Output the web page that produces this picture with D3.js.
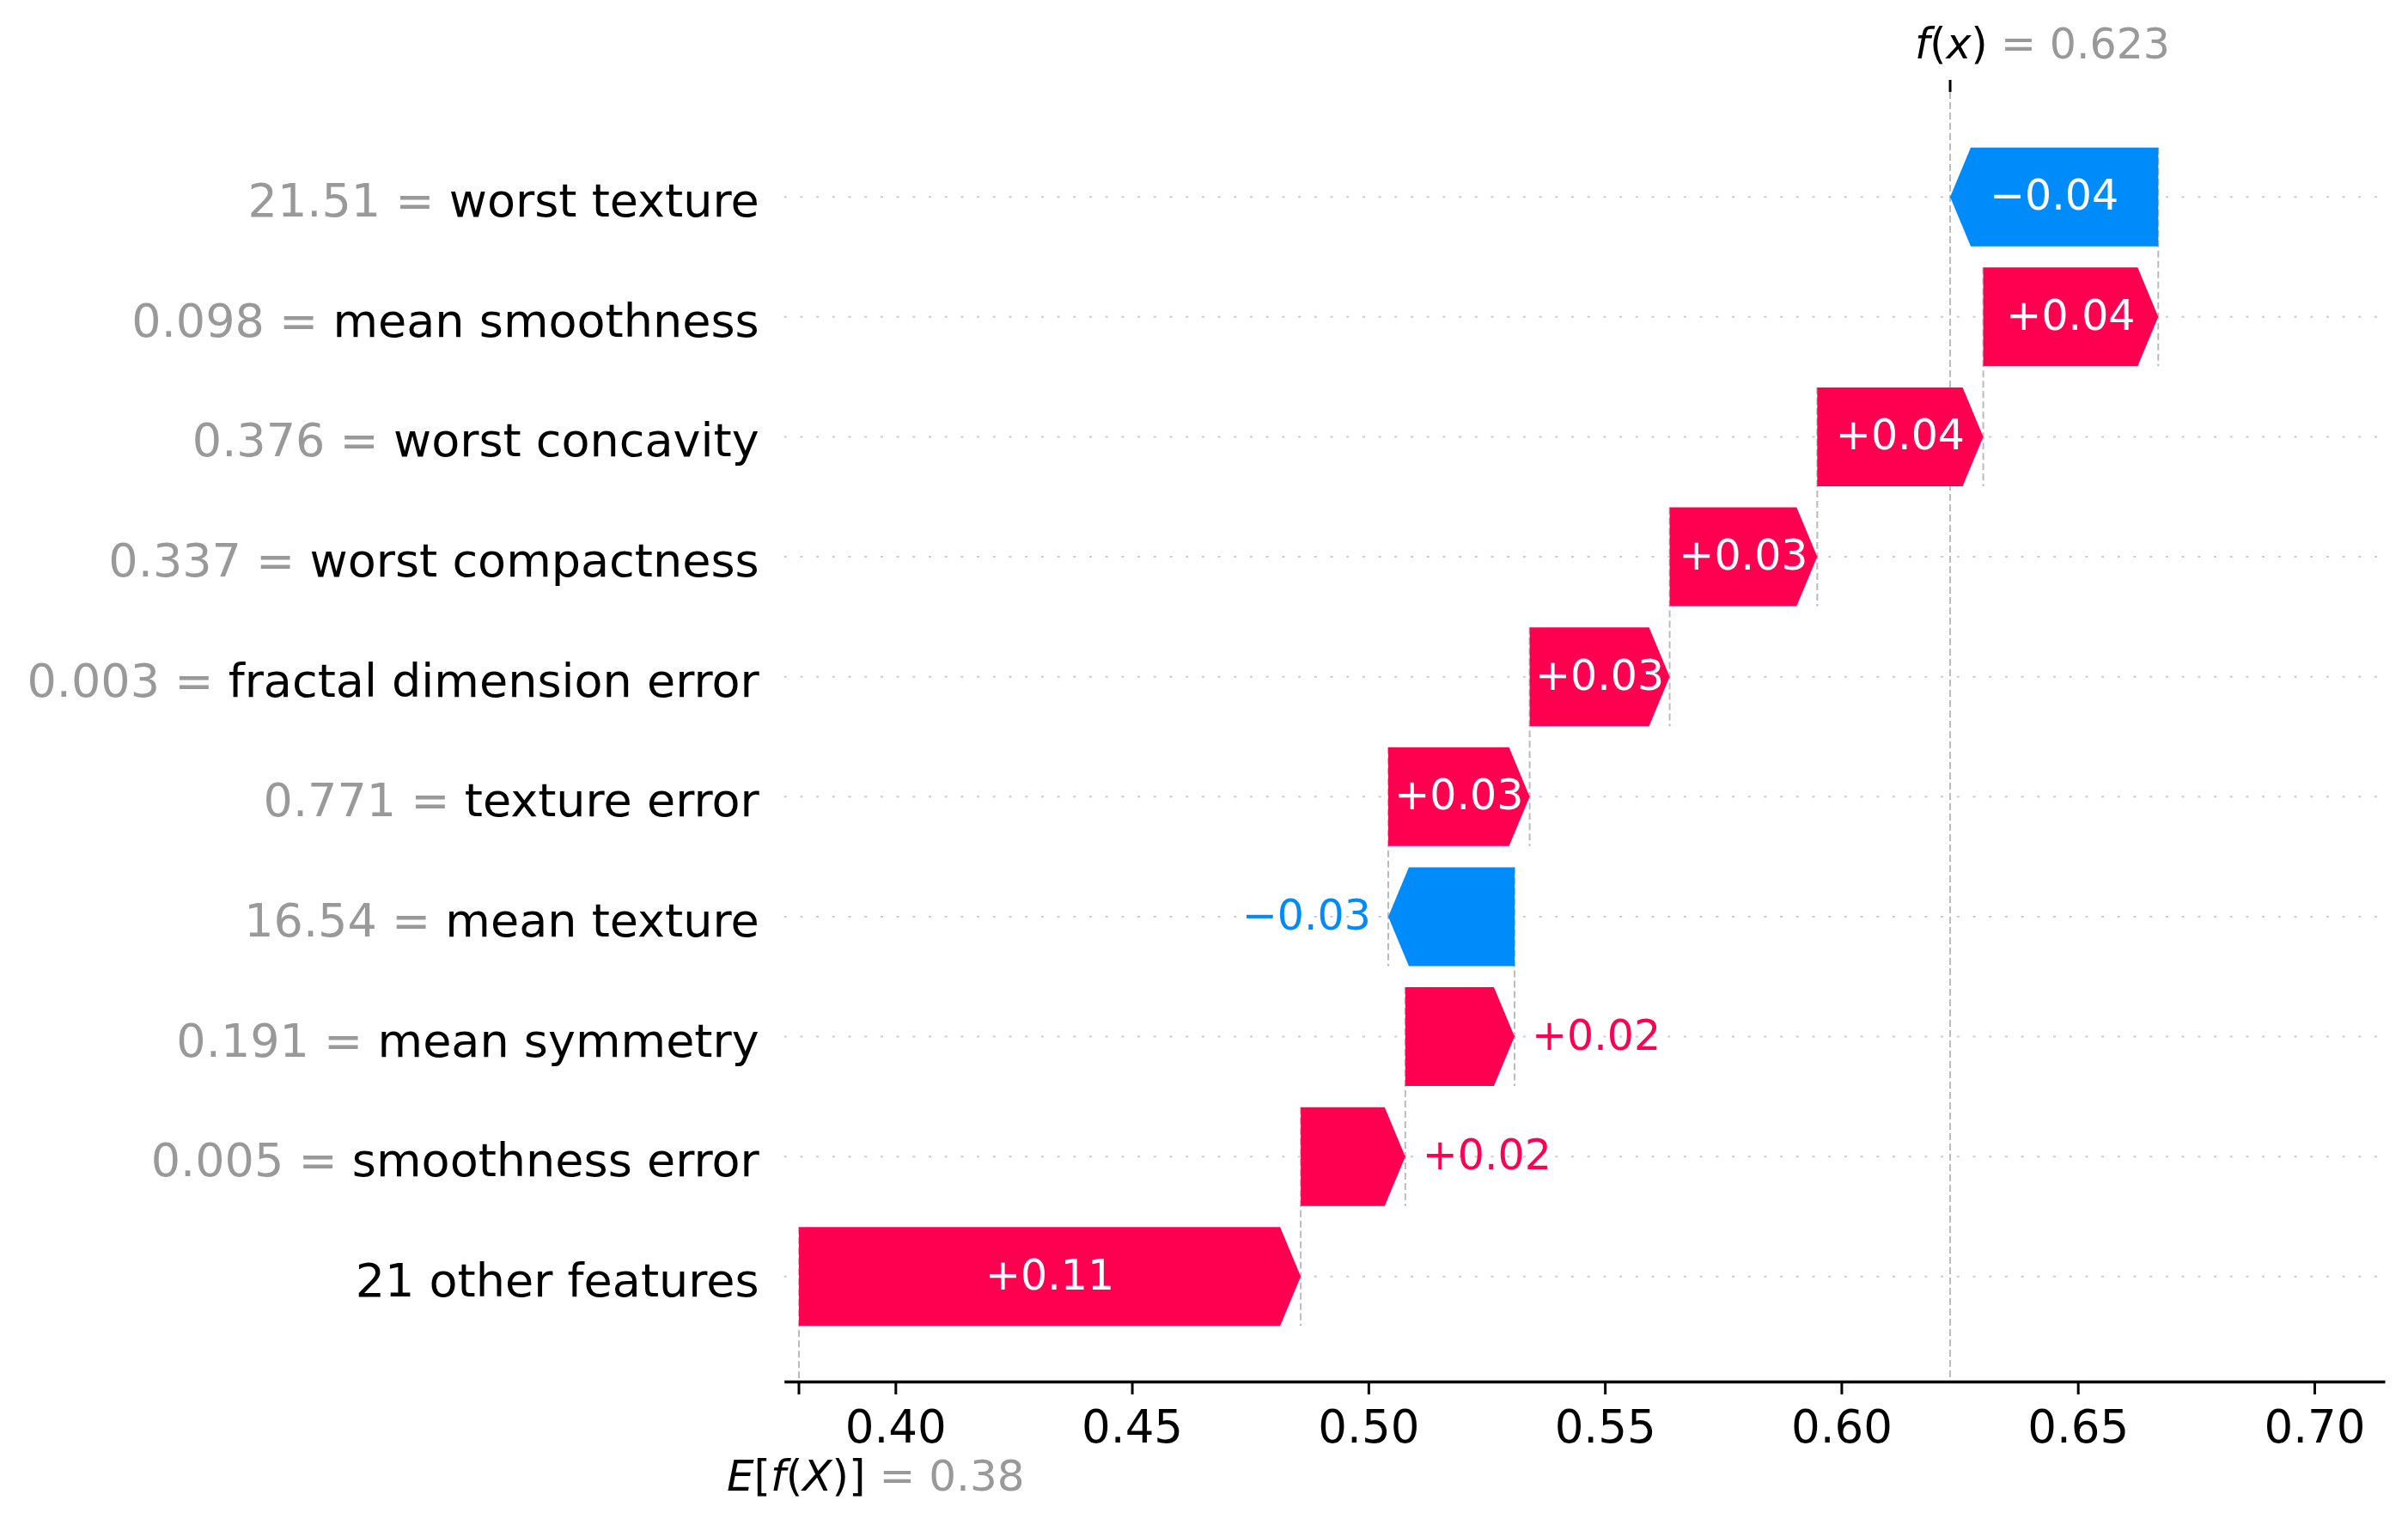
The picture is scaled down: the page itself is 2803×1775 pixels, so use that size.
<!DOCTYPE html>
<html><head><meta charset="utf-8">
<script src="https://cdn.jsdelivr.net/npm/d3@7"></script>
<style>
body{margin:0;background:#fff}
text{font-family:"DejaVu Sans",sans-serif;white-space:pre}
</style>
</head><body><svg id="chart" width="2803" height="1775"></svg>
<script>
// ---- data ----
const features = ["worst texture","mean smoothness","worst concavity","worst compactness","fractal dimension error","texture error","mean texture","mean symmetry","smoothness error","21 other features"];
const featureValues = ["21.51","0.098","0.376","0.337","0.003","0.771","16.54","0.191","0.005",""];
const shapValues = [-0.0440, 0.0370, 0.0351, 0.0312, 0.0296, 0.0299, -0.0267, 0.0231, 0.0221, 0.1061];
const baseValue = 0.3796;
const fxValue = 0.623;
const tickValues = [0.40,0.45,0.50,0.55,0.60,0.65,0.70];

const RED = "#ff0051", BLUE = "#008bfb";
const svg = d3.select("#chart");
svg.append("rect").attr("width",2803).attr("height",1775).attr("fill","#fff");

const x = d3.scaleLinear().domain([0.37646,0.7149]).range([912.7,2776]);
const y = d3.scaleLinear().domain([-0.875, 9.875]).range([107,1608]);
const barH = 115, HL = 24;
const n = features.length;
const starts = new Array(n), ends = new Array(n);
let acc = baseValue;
for (let i=n-1;i>=0;i--){ starts[i]=acc; acc+=shapValues[i]; ends[i]=acc; }

const [x0r,x1r] = x.range(), [yTop,yBot] = y.range();

// horizontal dotted grid
svg.append("g").selectAll("line").data(features).join("line")
  .attr("x1",x0r).attr("x2",x1r).attr("y1",(d,i)=>y(i)).attr("y2",(d,i)=>y(i))
  .attr("stroke","#cccccc").attr("stroke-width",2).attr("stroke-dasharray","3,15.7");

// dashed connectors
const dash = svg.append("g").attr("stroke","#bbbbbb").attr("stroke-width",2).attr("stroke-dasharray","8,4");
for (let i=0;i<n;i++){
  dash.append("line").attr("x1",x(starts[i])).attr("x2",x(starts[i]))
    .attr("y1",y(i)-barH/2).attr("y2", i+1<n ? y(i+1)+barH/2 : yBot);
}
dash.append("line").attr("x1",x(fxValue)).attr("x2",x(fxValue)).attr("y1",yTop).attr("y2",yBot);

// bars
function arrowPts(i){
  const a = x(starts[i]), b = x(ends[i]), c = y(i), t = c-barH/2, bt = c+barH/2;
  const hl = Math.min(HL, Math.abs(b-a));
  const s = b>=a ? -1 : 1;
  return [[a,t],[b+s*hl,t],[b,c],[b+s*hl,bt],[a,bt]].map(p=>p.join(",")).join(" ");
}
svg.append("g").selectAll("polygon").data(features).join("polygon")
  .attr("points",(d,i)=>arrowPts(i))
  .attr("fill",(d,i)=>shapValues[i]>=0?RED:BLUE);

// bar labels
const fmt = v => (v>=0?"+":"\u2212") + Math.abs(v).toFixed(2);
const lbl = svg.append("g").attr("font-size",49);
for (let i=0;i<n;i++){
  const v = shapValues[i], a = x(starts[i]), b = x(ends[i]);
  const t = lbl.append("text").text(fmt(v)).attr("y",y(i)+15);
  const w = t.node().getComputedTextLength();
  const bw = Math.abs(b-a);
  if (w < bw){
    t.attr("x",(a+b)/2).attr("text-anchor","middle").attr("fill","#fff");
  } else if (v>=0){
    t.attr("x",b+20).attr("text-anchor","start").attr("fill",RED);
  } else {
    t.attr("x",b-20).attr("text-anchor","end").attr("fill",BLUE);
  }
}

// y labels
const yl = svg.append("g").attr("font-size",54).attr("text-anchor","end");
features.forEach((f,i)=>{
  const t = yl.append("text").attr("x",x0r-29).attr("y",y(i)+23);
  if (featureValues[i]) t.append("tspan").attr("fill","#999999").text(featureValues[i]+" = ");
  t.append("tspan").attr("fill","#000").text(f);
});

// bottom axis
const ax = svg.append("g").attr("transform",`translate(0,${yBot})`)
  .call(d3.axisBottom(x).tickValues(tickValues).tickFormat(d3.format(".2f")).tickSize(15).tickSizeOuter(0).tickPadding(18));
ax.select(".domain").attr("stroke","#000").attr("stroke-width",3.3);
ax.selectAll(".tick line").attr("stroke","#000").attr("stroke-width",3);
ax.selectAll(".tick text").attr("font-size",53).attr("font-family","DejaVu Sans").attr("fill","#000");
ax.append("line").attr("x1",x(baseValue)).attr("x2",x(baseValue)).attr("y1",0).attr("y2",15).attr("stroke","#000").attr("stroke-width",3);

// top tick at f(x)
svg.append("line").attr("x1",x(fxValue)).attr("x2",x(fxValue)).attr("y1",yTop-14).attr("y2",yTop).attr("stroke","#000").attr("stroke-width",3);

// f(x) label
const fl = svg.append("text").attr("x",x(fxValue)-41).attr("y",68).attr("font-size",49);
fl.append("tspan").attr("font-style","italic").text("f");
fl.append("tspan").text("(");
fl.append("tspan").attr("font-style","italic").text("x");
fl.append("tspan").text(")");
fl.append("tspan").attr("fill","#999999").text(" = " + fxValue.toFixed(3));

// E[f(X)] label
const el = svg.append("text").attr("x",x(baseValue)-84).attr("y",1735).attr("font-size",50);
el.append("tspan").attr("font-style","italic").text("E");
el.append("tspan").text("[");
el.append("tspan").attr("font-style","italic").text("f");
el.append("tspan").text("(");
el.append("tspan").attr("font-style","italic").text("X");
el.append("tspan").text(")]");
el.append("tspan").attr("fill","#999999").text(" = " + d3.format(".2f")(baseValue));
</script></body></html>
